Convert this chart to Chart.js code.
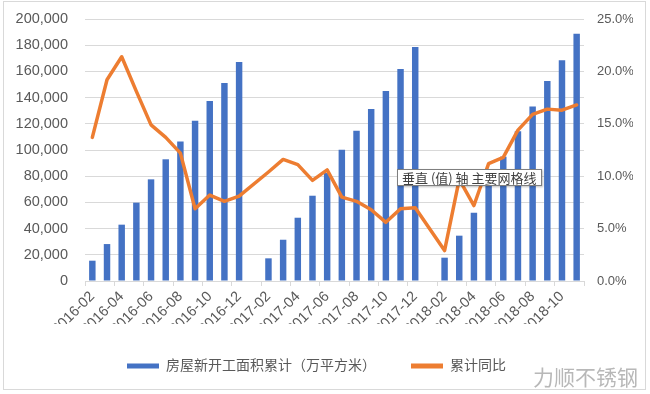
<!DOCTYPE html>
<html><head><meta charset="utf-8">
<script src="https://cdn.jsdelivr.net/npm/chart.js@4"></script>
<style>
html,body{margin:0;padding:0;background:#fff;}
#wrap{position:relative;width:650px;height:394px;overflow:hidden;}
#frame{position:absolute;left:3px;top:1px;width:641px;height:387px;border:1px solid #d9d9d9;pointer-events:none;}
#tip{position:absolute;left:397px;top:169px;height:15px;padding:0 4px;border:1px solid #7f7f7f;background:#fff;font:13px 'Noto Sans CJK SC',sans-serif;line-height:15px;color:#404040;box-shadow:1px 1px 2px rgba(0,0,0,.25);white-space:nowrap;}
#wm{position:absolute;left:533px;top:361px;font:21px 'Noto Sans CJK SC',sans-serif;color:#b8b8b8;}
</style></head>
<body><div id="wrap"><canvas id="c" width="650" height="394"></canvas><div id="frame"></div><div id="tip">垂直 (值) 轴 主要网格线</div><div id="wm">力顺不锈钢</div></div>
<script>
const categories = [
  '2016-02','2016-03','2016-04','2016-05','2016-06','2016-07','2016-08','2016-09','2016-10','2016-11','2016-12',
  '2017-01','2017-02','2017-03','2017-04','2017-05','2017-06','2017-07','2017-08','2017-09','2017-10','2017-11','2017-12',
  '2018-01','2018-02','2018-03','2018-04','2018-05','2018-06','2018-07','2018-08','2018-09','2018-10','2018-11'
];
const areaValues = [
  15500, 28200, 43000, 59800, 77600, 92900, 106500, 122400, 137400, 151200, 167200,
  null, 17300, 31500, 48300, 65100, 82400, 100200, 114700, 131300, 145000, 161800, 178600,
  null, 17800, 34600, 52100, 77000, 94900, 114300, 133300, 152700, 168500, 188800
];
const yoyValues = [
  13.7, 19.2, 21.4, 18.1, 14.9, 13.7, 12.2, 6.9, 8.2, 7.6, 8.1,
  null, 10.4, 11.6, 11.1, 9.6, 10.6, 8.0, 7.6, 6.8, 5.6, 6.9, 7.0,
  null, 2.9, 9.7, 7.2, 11.2, 11.8, 14.4, 15.9, 16.4, 16.3, 16.8
];
const seriesNames = ['房屋新开工面积累计（万平方米）', '累计同比'];
const leftAxis = {min: 0, max: 200000, step: 20000};
const rightAxis = {min: 0, max: 25, step: 5};

const BLUE = '#4472C4', ORANGE = '#ED7D31', TXT = '#595959', GRID = '#d9d9d9', NONE = 'rgba(0,0,0,0)';
Chart.defaults.font.family = "'Liberation Sans','Noto Sans CJK SC',sans-serif";
Chart.defaults.color = TXT;

new Chart(document.getElementById('c'), {
  data: {
    labels: categories,
    datasets: [
      {type: 'bar', label: seriesNames[0], data: areaValues, backgroundColor: BLUE,
       categoryPercentage: 1, barPercentage: 0.44, yAxisID: 'y', order: 2},
      {type: 'line', label: seriesNames[1], data: yoyValues, borderColor: ORANGE, backgroundColor: ORANGE,
       borderWidth: 3.5, pointRadius: 0, tension: 0, spanGaps: true, borderJoinStyle: 'round',
       borderCapStyle: 'round', yAxisID: 'y1', order: 1}
    ]
  },
  options: {
    responsive: false, animation: false,
    layout: {padding: {top: 19, right: 17, bottom: 11, left: 0}},
    plugins: {
      tooltip: {enabled: false},
      legend: {
        position: 'bottom',
        labels: {
          font: {size: 14}, color: TXT, boxWidth: 32, boxHeight: 5, padding: 35,
          generateLabels: () => [
            {text: seriesNames[0], fillStyle: BLUE, strokeStyle: BLUE, lineWidth: 0, datasetIndex: 0, fontColor: TXT},
            {text: seriesNames[1], fillStyle: ORANGE, strokeStyle: ORANGE, lineWidth: 0, datasetIndex: 1, fontColor: TXT}
          ]
        }
      }
    },
    scales: {
      x: {
        offset: true,
        grid: {offset: true, drawOnChartArea: false, drawTicks: true, tickLength: 5,
               color: c => (c.index === undefined || c.index % 2 === 0) ? GRID : NONE},
        border: {color: GRID},
        ticks: {autoSkip: false, minRotation: 45, maxRotation: 45, padding: 2, font: {size: 14.5}, color: TXT,
                callback: (v, i) => i % 2 === 0 ? categories[i] : ''},
        afterFit: s => { s.height = 43; }
      },
      y: {
        position: 'left', min: leftAxis.min, max: leftAxis.max,
        grid: {color: GRID, drawTicks: true, tickLength: 14, tickColor: NONE},
        border: {display: false},
        ticks: {stepSize: leftAxis.step, padding: 3, font: {size: 14.5}, color: TXT,
                callback: v => v.toLocaleString('en-US')},
        afterFit: s => { s.width = 85; }
      },
      y1: {
        position: 'right', min: rightAxis.min, max: rightAxis.max,
        grid: {drawOnChartArea: false, drawTicks: true, tickLength: 10, tickColor: NONE},
        border: {display: false},
        ticks: {stepSize: rightAxis.step, padding: 3, font: {size: 13}, color: TXT,
                callback: v => v.toFixed(1) + '%'},
        afterFit: s => { s.width = 49; }
      }
    }
  }
});
</script>
</body></html>
